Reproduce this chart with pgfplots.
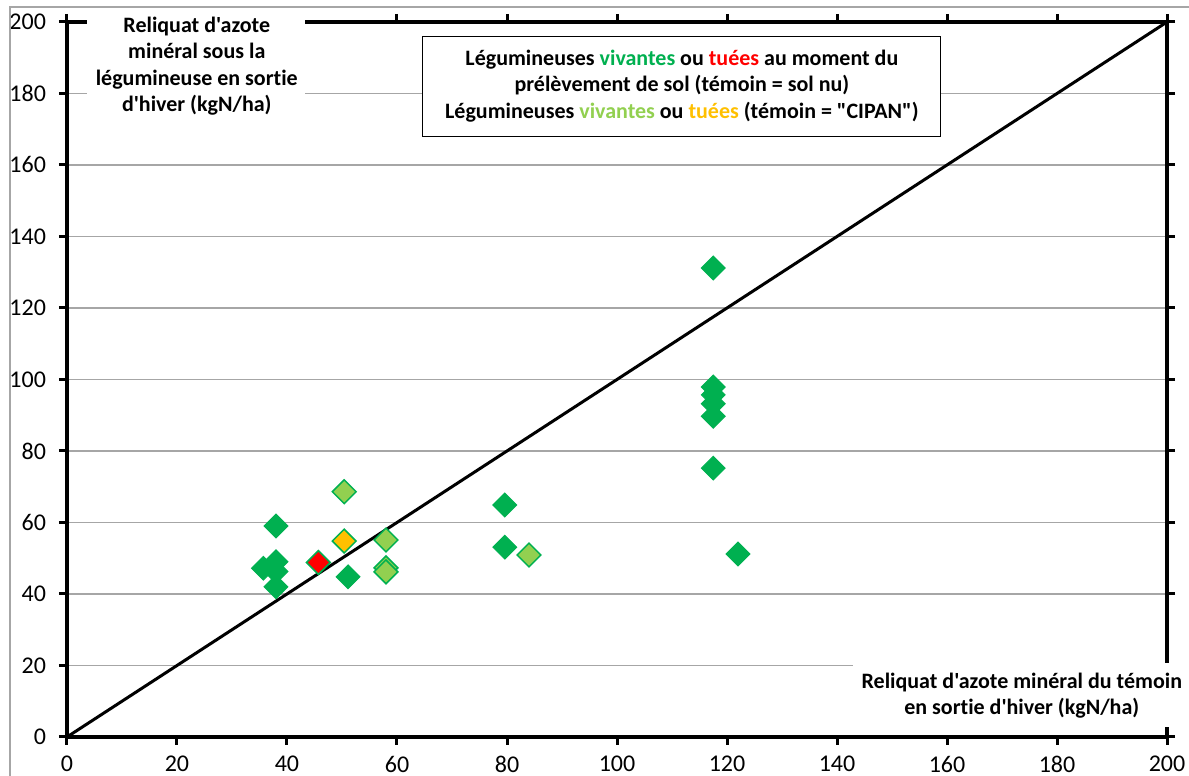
\documentclass[border=0pt]{standalone}
\usepackage{fontspec}
\setmainfont{Carlito}[Ligatures={TeXOff,NoCommon}]
\usepackage{pgfplots}
\pgfplotsset{compat=1.18}
\definecolor{dg}{HTML}{00B050}
\definecolor{lg}{HTML}{92D050}
\definecolor{yl}{HTML}{FFC000}
\definecolor{gridgray}{HTML}{A6A6A6}
\begin{document}
\begin{tikzpicture}
\begin{axis}[
 width=550pt, height=357.5pt, scale only axis,
 xmin=0,xmax=200,ymin=0,ymax=200,
 xtick={0,20,...,200}, ytick={0,20,...,200},
 tick align=outside, major tick length=4pt,
 tick style={black, line width=1.5pt},
 axis line style={black, line width=1.75pt},
 ymajorgrids, grid style={gridgray, line width=0.75pt},
 tick label style={font=\fontsize{12}{14}\selectfont},
 yticklabel style={xshift=-3pt},
 xticklabel style={yshift=-2pt},
 /pgf/number format/assume math mode=true,
 clip=false,
 ]
% outer chart border
\draw[gray!70, line width=0.6pt] (axis cs:-10.36,-20) -- (axis cs:-10.36,204.2) -- (axis cs:215,204.2);
% light green: vivantes CIPAN
\addplot[only marks, mark=square*, mark size=4.2pt, mark options={rotate=45, fill=lg, draw=dg, line width=0.75pt}]
 coordinates {(50.4,68.6) (58,55.1) (58,47.3) (58,46.2) (84,50.9)};
% yellow: tuees CIPAN
\addplot[only marks, mark=square*, mark size=4.2pt, mark options={rotate=45, fill=yl, draw=dg, line width=0.75pt}]
 coordinates {(50.4,54.8)};
% red: tuees sol nu
\addplot[only marks, mark=square*, mark size=4.2pt, mark options={rotate=45, fill=red, draw=dg, line width=0.75pt}]
 coordinates {(45.7,48.8)};
% 1:1 line
\addplot[black, line width=1.5pt] coordinates {(0,0) (200,200)};
% dark green: vivantes sol nu
\addplot[only marks, mark=square*, mark size=4.2pt, mark options={rotate=45, fill=dg, draw=dg, line width=0.5pt}]
 coordinates {(117.5,131.2) (117.5,97.9) (117.5,95.7) (117.5,93.2) (117.5,89.7) (117.5,75.2) (122,51.2) (79.6,64.9) (79.6,53.1) (51.1,44.8) (38,59) (38,49) (35.7,47.2) (38,46.3) (38,42)};
% y label box
\fill[white] (axis cs:3.6,169) rectangle (axis cs:43.3,203.3);
\node[align=center, font=\fontsize{11}{13.25}\selectfont\bfseries] at (axis cs:23.6,187.7)
 {Reliquat d'azote\\minéral sous la\\légumineuse en sortie\\d'hiver (kgN/ha)};
% x label box
\fill[white] (axis cs:142.9,2.8) rectangle (axis cs:210,20.7);
\node[align=center, font=\fontsize{11}{13.25}\selectfont\bfseries] at (axis cs:173.6,11.5)
 {Reliquat d'azote minéral du témoin\\en sortie d'hiver (kgN/ha)};
% legend text box
\filldraw[fill=white, draw=black, line width=0.5pt] (axis cs:64.7,168.1) rectangle (axis cs:158.9,195.8);
\node[align=center, font=\fontsize{11}{13.25}\selectfont\bfseries] at (axis cs:111.8,182.1)
 {Légumineuses \textcolor{dg}{vivantes} ou \textcolor{red}{tuées} au moment du\\prélèvement de sol (témoin = sol nu)\\Légumineuses \textcolor{lg}{vivantes} ou \textcolor{yl}{tuées} (témoin = "CIPAN")};
\coordinate (BL) at (axis cs:-12.18,-10.91);
\coordinate (TR) at (axis cs:204.0,206.15);
\end{axis}
\pgfresetboundingbox
\path[use as bounding box] (BL) rectangle (TR);
\end{tikzpicture}
\end{document}
